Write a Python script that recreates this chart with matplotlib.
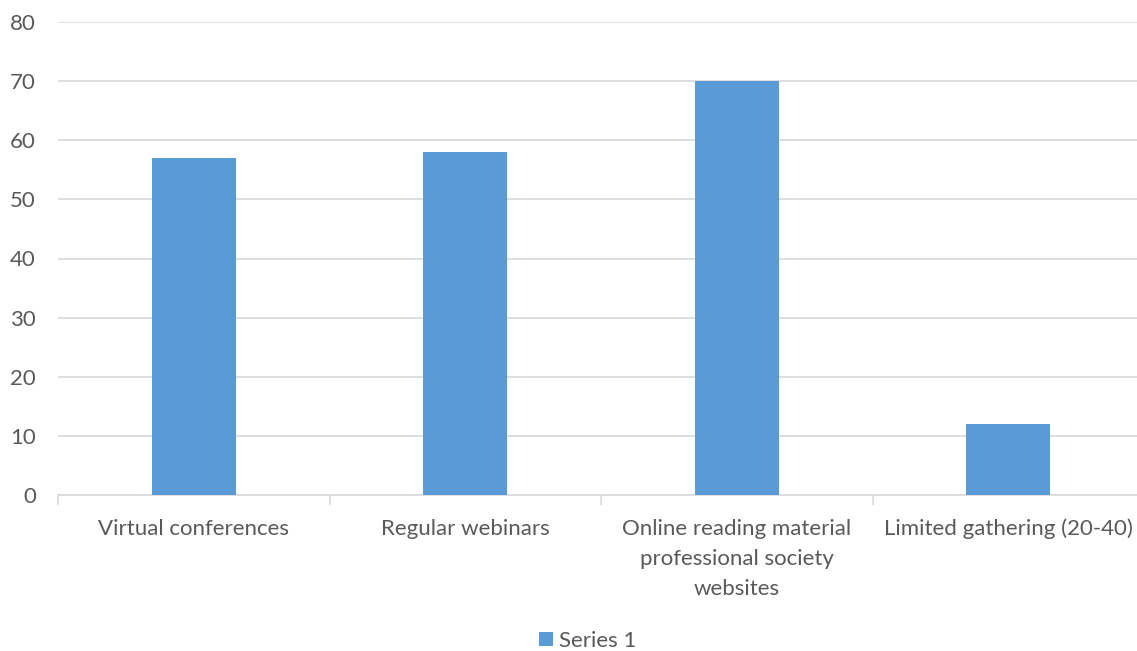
import matplotlib
matplotlib.use("Agg")
import matplotlib.pyplot as plt
from matplotlib.patches import Patch

categories = ["Virtual conferences", "Regular webinars",
              "Online reading material\nprofessional society\nwebsites",
              "Limited gathering (20-40)"]
values = [57, 58, 70, 12]
series_name = "Series 1"
yticks = [0, 10, 20, 30, 40, 50, 60, 70, 80]

plt.rcParams['font.family'] = ['Lato', 'DejaVu Sans']
W, H = 1137, 651
fig = plt.figure(figsize=(W / 100, H / 100), dpi=100)
ax = fig.add_axes([58 / W, (H - 495) / H, (1144 - 58) / W, (495 - 22) / H])

bar_color = "#5b9bd5"
text_color = "#595959"
grid_color = "#d9d9d9"
fs = 16

x = list(range(len(categories)))
ax.bar(x, values, width=0.31, color=bar_color, zorder=3)
ax.set_xlim(-0.5, len(categories) - 0.5)
ax.set_ylim(0, 80)
ax.set_yticks(yticks)
ax.set_yticklabels([str(v) for v in yticks])
ax.yaxis.grid(True, color=grid_color, linewidth=1.2, zorder=0)
ax.tick_params(axis='y', length=0, pad=16, labelsize=fs, labelcolor=text_color)

ax.set_xticks(x)
ax.set_xticklabels(categories)
ax.tick_params(axis='x', which='major', length=0, pad=17, labelsize=fs,
               labelcolor=text_color)
ax.set_xticks([i - 0.5 for i in range(len(categories) + 1)], minor=True)
ax.tick_params(axis='x', which='minor', length=7, width=1.2, color=grid_color,
               direction='out')
for lbl in ax.get_xticklabels():
    lbl.set_linespacing(1.63)
    lbl.set_verticalalignment('top')

for s in ['top', 'right', 'left']:
    ax.spines[s].set_visible(False)
ax.spines['bottom'].set_color(grid_color)
ax.spines['bottom'].set_linewidth(1.2)

fig.legend(handles=[Patch(facecolor=bar_color, label=series_name)],
           loc='center', bbox_to_anchor=(588 / W, 1 - 641 / H), frameon=False,
           fontsize=fs, labelcolor=text_color, handlelength=0.6,
           handleheight=0.6, handletextpad=0.3)

fig.savefig("out.png", dpi=100, facecolor="white")
